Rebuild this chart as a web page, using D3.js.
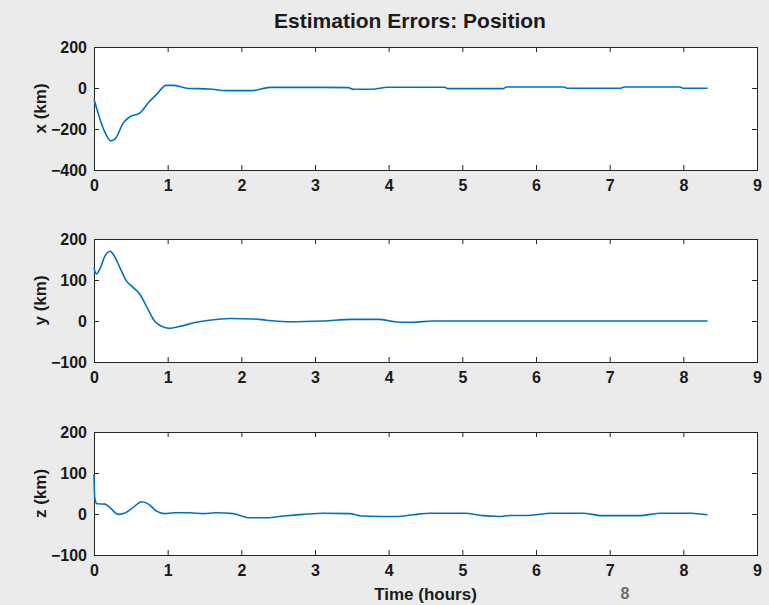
<!DOCTYPE html>
<html>
  <head>
    <meta charset="utf-8">
    <title>Estimation Errors: Position</title>
    <style>
      body {
        overflow: hidden;
        margin: 0px;
        background-color: #ebebeb;
      }

      .tick text {
        font-family: "Liberation Sans", Arial, sans-serif;
        font-weight: bold;
        font-size: 16px;
        fill: #1a1a1a;
      }

      .tick line {
        stroke: #262626;
      }

      .box {
        fill: white;
        stroke: #262626;
        stroke-width: 1px;
        shape-rendering: crispEdges;
      }

      .trace {
        fill: none;
        stroke: #0072bd;
        stroke-width: 1.6px;
      }

      .label {
        font-family: "Liberation Sans", Arial, sans-serif;
        font-weight: bold;
        font-size: 17px;
        fill: #1a1a1a;
      }
    </style>
  </head>
  <body>
    <svg id="container"></svg>
    <script src="https://cdn.jsdelivr.net/npm/d3@7"></script>

    <script type="text/javascript">
      var width = 769,
        height = 605;

      // x error (km) against time (hours)
      var tX = [0, 0.04, 0.13, 0.23, 0.29, 0.40, 0.49, 0.62, 0.74, 0.85, 0.98, 1.08, 1.26, 1.57, 1.8, 2.14, 2.39, 3.11, 3.45, 3.52, 3.77, 3.99, 4.76, 4.8, 5.55, 5.6, 6.38, 6.42, 7.15, 7.2, 7.95, 8.0, 8.33];
      var errX = [-55, -104, -201, -258, -247, -169, -140, -123, -71, -31, 13, 13, -1, -5, -13, -13, 3, 3, 2, -6, -6, 4, 4, -3, -3, 5, 5, -1, -1, 5, 5, -1, -1];

      // y error
      var tY = [0, 0.03, 0.08, 0.15, 0.22, 0.26, 0.35, 0.44, 0.53, 0.62, 0.72, 0.83, 0.92, 1.02, 1.17, 1.39, 1.57, 1.85, 2.16, 2.34, 2.66, 3.11, 3.5, 3.86, 4.14, 4.33, 4.6, 8.33];
      var errY = [131, 115, 127, 159, 170, 163, 131, 98, 82, 66, 33, -2, -13, -18, -13, -3, 2, 6, 5, 2, -2, 0, 4, 4, -3, -3, 0, 0];

      // z error
      var tZ = [0, 0.01, 0.04, 0.15, 0.22, 0.33, 0.40, 0.51, 0.65, 0.74, 0.85, 0.96, 1.08, 1.30, 1.48, 1.66, 1.89, 2.09, 2.34, 2.57, 2.84, 3.11, 3.47, 3.63, 3.9, 4.1, 4.33, 4.56, 5.03, 5.28, 5.5, 5.64, 5.9, 6.2, 6.63, 6.9, 7.4, 7.7, 8.1, 8.33];
      var errZ = [97, 40, 25, 24, 15, -1, 1, 13, 30, 24, 7, 1, 3, 3, 1, 3, 1, -9, -9, -5, -1, 2, 1, -5, -6, -6, -2, 2, 2, -4, -6, -3.5, -3.5, 2, 2, -4, -4, 2, 2, -2];

      var timeTicks = [0, 1, 2, 3, 4, 5, 6, 7, 8, 9];
      var xTicks = [-400, -200, 0, 200];
      var yTicks = [-100, 0, 100, 200];
      var zTicks = [-100, 0, 100, 200];

      var panels = [
        { t: tX, v: errX, ticks: xTicks, name: 'x (km)', top: 47 },
        { t: tY, v: errY, ticks: yTicks, name: 'y (km)', top: 239 },
        { t: tZ, v: errZ, ticks: zTicks, name: 'z (km)', top: 432 }
      ];

      var left = 94, right = 757, panelHeight = 123;

      var container = d3.select('#container')
        .attr('width', width)
        .attr('height', height);

      container.append('rect')
        .attr('width', width)
        .attr('height', height)
        .attr('fill', '#ebebeb');

      var xScale = d3.scaleLinear().domain([0, 9]).range([left, right]);

      panels.forEach(function (p) {
        var yScale = d3.scaleLinear()
          .domain(d3.extent(p.ticks))
          .range([p.top + panelHeight, p.top]);

        var g = container.append('g');

        g.append('rect')
          .attr('class', 'box')
          .attr('x', left)
          .attr('y', p.top)
          .attr('width', right - left)
          .attr('height', panelHeight);

        // inward ticks on all four sides, labels only left and bottom
        var axes = [
          [d3.axisBottom(xScale).tickValues(timeTicks).tickFormat(d3.format('d')).tickPadding(10), 'translate(0,' + (p.top + panelHeight) + ')'],
          [d3.axisTop(xScale).tickValues(timeTicks).tickFormat(''), 'translate(0,' + p.top + ')'],
          [d3.axisLeft(yScale).tickValues(p.ticks).tickFormat(d3.format('d')).tickPadding(7), 'translate(' + left + ',0)'],
          [d3.axisRight(yScale).tickValues(p.ticks).tickFormat(''), 'translate(' + right + ',0)']
        ];
        axes.forEach(function (a) {
          var ax = g.append('g')
            .attr('transform', a[1])
            .call(a[0].tickSizeInner(-5).tickSizeOuter(0));
          ax.select('.domain').remove();
          ax.selectAll('.tick text').attr('font-family', null).attr('font-size', null);
        });

        var line = d3.line()
          .x(function (d, i) { return xScale(p.t[i]); })
          .y(function (d) { return yScale(d); })
          .curve(d3.curveMonotoneX);

        g.append('path')
          .attr('class', 'trace')
          .attr('d', line(p.v));

        g.append('text')
          .attr('class', 'label')
          .attr('text-anchor', 'middle')
          .attr('transform', 'translate(46,' + (p.top + panelHeight / 2) + ') rotate(-90)')
          .text(p.name);
      });

      container.append('text')
        .attr('class', 'label')
        .attr('x', 410)
        .attr('y', 28)
        .attr('text-anchor', 'middle')
        .style('font-size', '21px')
        .text('Estimation Errors: Position');

      container.append('text')
        .attr('class', 'label')
        .attr('x', (left + right) / 2)
        .attr('y', 600)
        .attr('text-anchor', 'middle')
        .text('Time (hours)');

      container.append('text')
        .attr('x', 625)
        .attr('y', 599)
        .attr('text-anchor', 'middle')
        .attr('fill', '#6e6e6e')
        .style('font-family', '"Liberation Sans", Arial, sans-serif')
        .style('font-weight', 'bold')
        .style('font-size', '16px')
        .text('8');
    </script>
  </body>
</html>
